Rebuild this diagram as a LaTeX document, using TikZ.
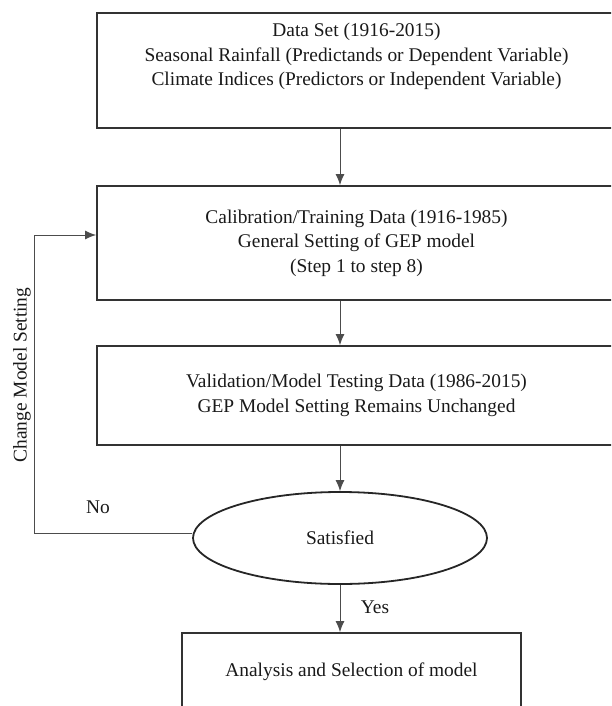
\documentclass[tikz,border=0pt]{standalone}
\usepackage{fontspec}
\setmainfont{Liberation Serif}
\usetikzlibrary{shapes.geometric,arrows.meta}
\begin{document}
\begin{tikzpicture}[x=1pt, y=-1pt, font=\fontsize{19.4}{24.5}\selectfont]
       \tikzstyle{boxnode}=[draw=black!80, line width=1.8pt, align=center, inner sep=0pt, text=black!90]
       \tikzstyle{decisionnode}=[ellipse, draw=black!85, line width=1.8pt, inner sep=0pt, text=black!90, minimum width=294pt, minimum height=92pt]
       \tikzstyle{flowline}=[draw=black!70, line width=1pt, -{Latex[length=11pt,width=9pt]}]
       \tikzstyle{labelnode}=[inner sep=0pt, text=black!90]
       \useasboundingbox (0,0) rectangle (611,706);
       \clip (0,0) rectangle (611,706);
       % boxes of the flow
       \node[boxnode, minimum width=519pt, minimum height=115pt] (data) at (356.5,70.5)
        {Data Set (1916-2015)\\ Seasonal Rainfall (Predictands or Dependent Variable)\\ Climate Indices (Predictors or Independent Variable)\\ \strut};
       \node[boxnode, minimum width=519pt, minimum height=114pt] (calib) at (356.5,243)
        {Calibration/Training Data (1916-1985)\\ General Setting of GEP model\\ (Step 1 to step 8)};
       \node[boxnode, minimum width=519pt, minimum height=99pt] (valid) at (356.5,395.5)
        {Validation/Model Testing Data (1986-2015)\\ GEP Model Setting Remains Unchanged};
       \node[decisionnode] (sat) at (340,538) {Satisfied};
       \node[boxnode, minimum width=339pt, minimum height=78pt] (select) at (351.5,672)
        {Analysis and Selection of model};
       % connectors
       \draw[flowline] (data.south -| sat.north) -- (calib.north -| sat.north);
       \draw[flowline] (calib.south -| sat.north) -- (valid.north -| sat.north);
       \draw[flowline] (valid.south -| sat.north) -- (sat.north);
       \draw[flowline] (sat.south) -- (select.north -| sat.south);
       \coordinate (turn) at (34,235);
       \draw[flowline] ([yshift=5pt]sat.west) -| (turn) -- (turn -| calib.west);
       % labels
       \node[labelnode] (no) at (98,507) {No};
       \node[labelnode] (yes) at (375,607) {Yes};
       \node[labelnode, rotate=90] (change) at (22,375) {Change Model Setting};
\end{tikzpicture}
\end{document}
